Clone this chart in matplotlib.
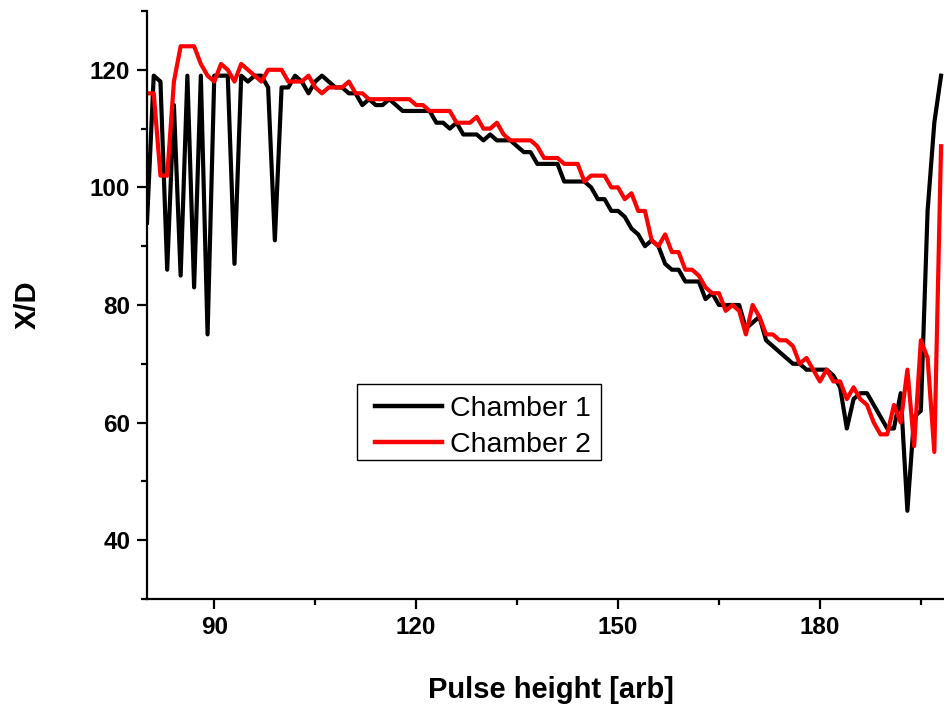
import matplotlib
matplotlib.use("Agg")
import matplotlib.pyplot as plt
from matplotlib.ticker import MultipleLocator
from matplotlib.patches import Rectangle

plt.rcParams['font.family'] = ['Liberation Sans', 'DejaVu Sans']

pulse_height = list(range(80, 199))

chamber1 = [94, 119, 118, 86, 114, 85, 119, 83, 119, 75,
            119, 119, 119, 87, 119, 118, 119, 119, 117, 91,
            117, 117, 119, 118, 116, 118, 119, 118, 117, 117,
            116, 116, 114, 115, 114, 114, 115, 114, 113, 113,
            113, 113, 113, 111, 111, 110, 111, 109, 109, 109,
            108, 109, 108, 108, 108, 107, 106, 106, 104, 104,
            104, 104, 101, 101, 101, 101, 100, 98, 98, 96,
            96, 95, 93, 92, 90, 91, 90, 87, 86, 86,
            84, 84, 84, 81, 82, 80, 80, 80, 80, 76,
            77, 78, 74, 73, 72, 71, 70, 70, 69, 69,
            69, 69, 68, 66, 59, 64, 65, 65, 63, 61,
            59, 59, 65, 45, 61, 62, 96, 111, 119]

chamber2 = [116, 116, 102, 102, 118, 124, 124, 124, 121, 119,
            118, 121, 120, 118, 121, 120, 119, 118, 120, 120,
            120, 118, 118, 118, 119, 117, 116, 117, 117, 117,
            118, 116, 116, 115, 115, 115, 115, 115, 115, 115,
            114, 114, 113, 113, 113, 113, 111, 111, 111, 112,
            110, 110, 111, 109, 108, 108, 108, 108, 107, 105,
            105, 105, 104, 104, 104, 101, 102, 102, 102, 100,
            100, 98, 99, 96, 96, 91, 90, 92, 89, 89,
            86, 86, 85, 83, 82, 82, 79, 80, 79, 75,
            80, 78, 75, 75, 74, 74, 73, 70, 71, 69,
            67, 69, 67, 67, 64, 66, 64, 63, 60, 58,
            58, 63, 60, 69, 56, 74, 71, 55, 107]

series_labels = ["Chamber 1", "Chamber 2"]

fig = plt.figure(figsize=(9.44, 7.04), dpi=100)
ax = fig.add_axes([147/944, 105/704, (954.5-147)/944, (599-11)/704])

ax.plot(pulse_height, chamber1, color='black', lw=3.0, label=series_labels[0])
ax.plot(pulse_height, chamber2, color='#ff0000', lw=3.0, label=series_labels[1])

ax.set_xlim(80, 200)
ax.set_ylim(30, 130)
ax.xaxis.set_major_locator(MultipleLocator(30))
ax.xaxis.set_minor_locator(MultipleLocator(15))
ax.yaxis.set_major_locator(MultipleLocator(20))
ax.yaxis.set_minor_locator(MultipleLocator(10))

for s in ['top', 'right']:
    ax.spines[s].set_visible(False)
for s in ['left', 'bottom']:
    ax.spines[s].set_linewidth(1.6)

ax.tick_params(which='major', direction='out', length=7, width=1.6, labelsize=17.5, pad=5)
ax.tick_params(which='minor', direction='out', length=4, width=1.6)
for lab in ax.get_xticklabels() + ax.get_yticklabels():
    lab.set_fontweight('bold')

ax.set_xlabel("Pulse height [arb]", fontsize=21, fontweight='bold', labelpad=27)
ax.set_ylabel("X/D", fontsize=21, fontweight='bold', labelpad=35)

# legend frame
frame = Rectangle((0.2601, 0.2364), 0.3022, 0.1293, transform=ax.transAxes,
                  facecolor='white', edgecolor='black', linewidth=1.0, zorder=5)
ax.add_patch(frame)

leg = ax.legend(loc='upper left', bbox_to_anchor=(0.2824, 0.3450),
                fontsize=20.5, frameon=False, handlelength=2.35, handletextpad=0.3,
                borderpad=0.0, labelspacing=0.36, borderaxespad=0)
leg.set_zorder(6)
for ln in leg.get_lines():
    ln.set_linewidth(3.2)

fig.savefig("out.png", dpi=100)
